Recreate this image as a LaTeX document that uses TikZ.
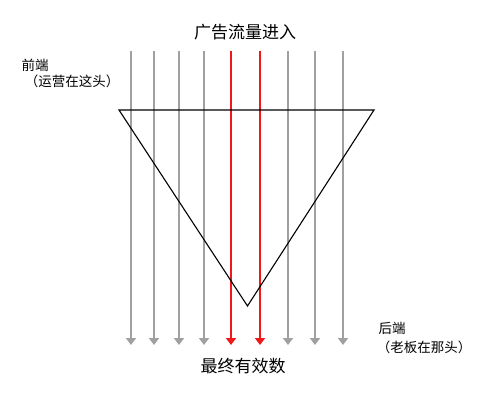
\documentclass[tikz,border=0pt]{standalone}
\usepackage{fontspec}
\newfontfamily\cjk{Noto Sans CJK SC}
\usetikzlibrary{arrows.meta}
\definecolor{flowgray}{HTML}{A0A0A0}
\definecolor{flowred}{HTML}{F01818}
\tikzset{
  flow/.style={line width=1.8pt, -{Triangle[width=10pt,length=7pt]}},
  big/.style={font=\cjk\fontsize{17}{19}\selectfont, inner sep=0pt},
  small/.style={font=\cjk\fontsize{13.5}{15}\selectfont, inner sep=0pt},
  funnel/.style={draw=black, line width=1.1pt, line join=miter}
}
\begin{document}
\begin{tikzpicture}[x=1pt,y=-1pt]
\useasboundingbox (0,0) rectangle (500,400);
\fill[white] (0,0) rectangle (500,400);
% flow lines
\foreach \i/\x/\c in {1/131/flowgray,2/154/flowgray,3/179/flowgray,4/204/flowgray,5/231/flowred,6/260/flowred,7/288/flowgray,8/315/flowgray,9/343/flowgray}{
  \coordinate (t\i) at (\x,51);
  \coordinate (b\i) at (\x,345);
  \draw[flow, draw=\c, fill=\c, color=\c] (t\i) -- (b\i);
}
% funnel triangle
\coordinate (fl) at (119,110);
\coordinate (fr) at (374,110);
\coordinate (fb) at (247.5,306);
\draw[funnel] (fl) -- (fr) -- (fb) -- cycle;
% labels
\node[big] (title) at (245,32) {广告流量进入};
\node[big] (result) at (243,366) {最终有效数};
\node[small] (front) at (35,65) {前端};
\node[small] (frontsub) at (72,81) {（运营在这头）};
\node[small] (back) at (392,328) {后端};
\node[small] (backsub) at (424,347) {（老板在那头）};
\end{tikzpicture}
\end{document}
